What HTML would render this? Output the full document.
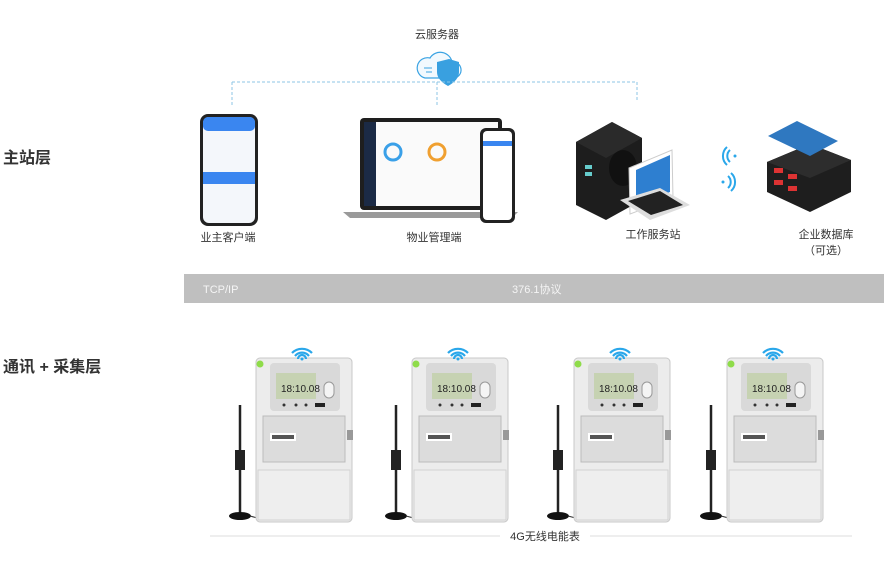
<!DOCTYPE html>
<html><head><meta charset="utf-8"><style>
html,body{margin:0;padding:0;background:#fff;}
body{width:884px;height:561px;overflow:hidden;position:relative;font-family:"Liberation Sans","Noto Sans CJK SC",sans-serif;}
svg{position:absolute;left:0;top:0;}
</style></head><body>
<svg width="884" height="561" viewBox="0 0 884 561" xmlns="http://www.w3.org/2000/svg" font-family="Liberation Sans, Noto Sans CJK SC, sans-serif">
<defs>
<g id="meter">
  <line x1="240" y1="405" x2="240" y2="515" stroke="#222" stroke-width="2.5"/>
  <rect x="235" y="450" width="10" height="20" fill="#222"/>
  <ellipse cx="240" cy="516" rx="11" ry="4" fill="#111"/>
  <path d="M250 516 q20 6 40 0 q10 -3 20 2" stroke="#333" fill="none" stroke-width="1"/>
  <rect x="256" y="358" width="96" height="164" rx="4" fill="#ececec" stroke="#c8c8c8"/>
  <rect x="270" y="363" width="70" height="48" rx="4" fill="#d9d9d9"/>
  <rect x="276" y="373" width="40" height="26" fill="#c6d2b2"/>
  <rect x="324" y="382" width="10" height="16" rx="5" fill="#f4f4f4" stroke="#999"/>
  <circle cx="260" cy="364" r="3.5" fill="#8fdc4a"/>
  <circle cx="284" cy="405" r="1.5" fill="#333"/><circle cx="296" cy="405" r="1.5" fill="#333"/><circle cx="306" cy="405" r="1.5" fill="#333"/>
  <rect x="315" y="403" width="10" height="4" fill="#222"/>
  <rect x="263" y="416" width="82" height="46" fill="#dcdcdc" stroke="#bbb"/>
  <rect x="270" y="433" width="26" height="8" fill="#fff"/>
  <rect x="272" y="435" width="22" height="4" fill="#555"/>
  <rect x="258" y="470" width="92" height="50" fill="#eeeeee" stroke="#d2d2d2"/>
  <rect x="347" y="430" width="6" height="10" fill="#999"/>
  <path d="M292 353 a14 14 0 0 1 20 0 M295 356 a9 9 0 0 1 14 0 M298 359 a4 4 0 0 1 8 0" stroke="#2aa7ea" stroke-width="2.2" fill="none"/>
  <circle cx="302" cy="359" r="1.5" fill="#2aa7ea"/>
</g>
</defs>
<text x="3" y="163" font-size="16" font-weight="bold" fill="#333">主站层</text>
<text x="3" y="372" font-size="16" font-weight="bold" fill="#333">通讯 + 采集层</text>

<text x="437" y="38" font-size="11" fill="#333" text-anchor="middle">云服务器</text>
<path d="M425 78 a10 10 0 0 1 5 -20 a12 12 0 0 1 22 4 a8 8 0 0 1 2 16 z" fill="#f2f9fe" stroke="#3aa3e3" stroke-width="1.2"/>
<path d="M437 62 l12 -3 l10 3 v10 q0 8 -11 14 q-11 -6 -11 -14 z" fill="#39a0e0"/>
<path d="M424 68 h8 M426 72 h6" stroke="#3aa3e3"/>
<path d="M232 82 H637 M232 82 V105 M437 82 V105 M637 82 V100" stroke="#8cc6e6" stroke-width="1" stroke-dasharray="3,2" fill="none"/>

<!-- phone -->
<rect x="200" y="114" width="58" height="112" rx="8" fill="#222"/>
<rect x="203" y="117" width="52" height="106" rx="6" fill="#f4f7fb"/>
<rect x="203" y="117" width="52" height="14" rx="5" fill="#3a86f0"/>
<rect x="203" y="172" width="52" height="12" fill="#3a86f0"/>
<text x="228" y="241" font-size="11" fill="#333" text-anchor="middle">业主客户端</text>

<!-- laptop -->
<rect x="360" y="118" width="142" height="92" rx="4" fill="#1e1e1e"/>
<rect x="364" y="122" width="134" height="84" fill="#fafafa"/>
<rect x="364" y="122" width="12" height="84" fill="#1b2a45"/>
<path d="M343 212 H518 L512 218 H350 Z" fill="#9a9a9a"/>
<circle cx="393" cy="152" r="8" fill="none" stroke="#3aa0e8" stroke-width="3"/>
<circle cx="437" cy="152" r="8" fill="none" stroke="#f0a030" stroke-width="3"/>
<rect x="480" y="128" width="35" height="95" rx="6" fill="#222"/>
<rect x="483" y="131" width="29" height="89" rx="4" fill="#fff"/>
<rect x="483" y="141" width="29" height="5" fill="#3a86f0"/>
<text x="434" y="241" font-size="11" fill="#333" text-anchor="middle">物业管理端</text>

<!-- workstation -->
<path d="M576 142 L612 122 L642 138 L642 200 L606 220 L576 205 Z" fill="#1d1d1d"/>
<path d="M576 142 L612 122 L642 138 L606 158 Z" fill="#2a2a2a"/>
<ellipse cx="623" cy="168" rx="14" ry="18" fill="#111"/>
<rect x="585" y="165" width="7" height="4" fill="#6cc"/><rect x="585" y="172" width="7" height="4" fill="#6cc"/>
<path d="M629 168 L672 150 L673 198 L630 214 Z" fill="#fff" stroke="#ccc"/>
<path d="M636 170 L670 155 L670 192 L636 205 Z" fill="#2e7fd0"/>
<path d="M620 200 L660 188 L690 205 L650 220 Z" fill="#ddd"/>
<path d="M628 201 L660 191 L683 205 L651 215 Z" fill="#222"/>
<text x="653" y="238" font-size="11" fill="#333" text-anchor="middle">工作服务站</text>

<path d="M730 150 a8 8 0 0 0 0 12 M727 147 a12 12 0 0 0 0 18" stroke="#2aa7ea" stroke-width="2" fill="none"/>
<circle cx="735" cy="156" r="1.5" fill="#2aa7ea"/>
<path d="M728 176 a8 8 0 0 1 0 12 M731 173 a12 12 0 0 1 0 18" stroke="#2aa7ea" stroke-width="2" fill="none"/>
<circle cx="723" cy="182" r="1.5" fill="#2aa7ea"/>

<!-- database -->
<path d="M767 162 L810 144 L851 160 L851 192 L810 212 L767 192 Z" fill="#1e1e1e"/>
<path d="M767 162 L810 144 L851 160 L810 178 Z" fill="#2d2d2d"/>
<path d="M768 136 L797 121 L838 141 L810 156 Z" fill="#2f78c0"/>
<rect x="774" y="168" width="9" height="5" fill="#d33"/><rect x="788" y="174" width="9" height="5" fill="#d33"/><rect x="774" y="180" width="9" height="5" fill="#d33"/><rect x="788" y="186" width="9" height="5" fill="#d33"/>
<text x="826" y="238" font-size="11" fill="#333" text-anchor="middle">企业数据库</text>
<text x="826" y="254" font-size="11" fill="#333" text-anchor="middle">（可选）</text>

<rect x="184" y="274" width="700" height="29" fill="#bfbfbf"/>
<text x="203" y="293" font-size="11" fill="#f5f5f5">TCP/IP</text>
<text x="512" y="293" font-size="11" fill="#f5f5f5">376.1协议</text>

<use href="#meter"/>
<use href="#meter" x="156"/>
<use href="#meter" x="318"/>
<use href="#meter" x="471"/>
<text x="281" y="392" font-size="10" fill="#222">18:10.08</text>
<text x="437" y="392" font-size="10" fill="#222">18:10.08</text>
<text x="599" y="392" font-size="10" fill="#222">18:10.08</text>
<text x="752" y="392" font-size="10" fill="#222">18:10.08</text>

<line x1="210" y1="536" x2="852" y2="536" stroke="#ddd"/>
<rect x="500" y="528" width="90" height="16" fill="#fff"/>
<text x="545" y="540" font-size="11" fill="#333" text-anchor="middle">4G无线电能表</text>
</svg>
</body></html>
